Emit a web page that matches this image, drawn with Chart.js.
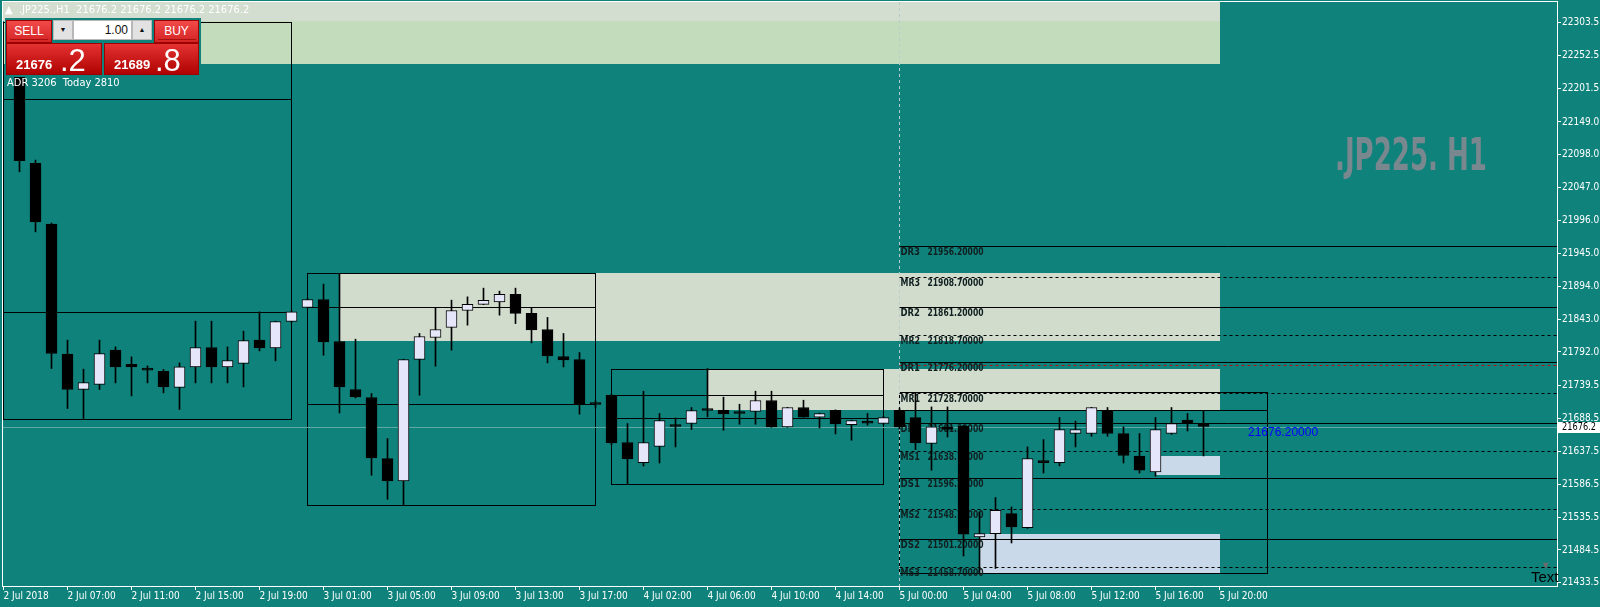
<!DOCTYPE html>
<html lang="en">
<head>
<meta charset="UTF-8">
<title>.JP225.,H1</title>
<script src="https://cdn.jsdelivr.net/npm/chart.js"></script>
<style>
    body { margin: 0; background: #0f827c; overflow: hidden; }
    #wrap { position: relative; width: 1600px; height: 607px; }
    #wrap canvas { position: absolute; left: 0; top: 0; }
    .ov { position: absolute; white-space: nowrap; font-family: "Liberation Sans Narrow", "DejaVu Sans Condensed", sans-serif; }
    .title { left: 5px; top: 3px; font-size: 11px; color: #fff; }
    .btn { position: absolute; box-sizing: border-box; border: 1px solid #9c0000; color: #fff; text-align: center;
        background: linear-gradient(#f24a4a, #d42424); font-family: "Liberation Sans", sans-serif; font-size: 12px; }
    .btn span { display: inline-block; margin-top: 3px; padding-bottom: 1px; border-bottom: 1px solid #a81010; width: 38px; }
    .price { position: absolute; box-sizing: border-box; border: 1px solid #9c0000; color: #fff;
        background: linear-gradient(#e43232, #b00202); font-family: "Liberation Sans", sans-serif; }
    .price b { position: absolute; left: 9px; top: 13px; font-size: 13px; }
    .price i { position: absolute; font-style: normal; top: -1px; font-size: 31px; }
    .lot { position: absolute; box-sizing: border-box; background: #e2e2e2; border: 1px solid #b8b8b8; font-size: 7px; text-align: center; line-height: 18px; color: #111; }
    #wm { left: 1335px; top: 129px; font-size: 44px; font-weight: bold; color: #79878f; transform-origin: 0 0; }
</style>
</head>
<body>
<div id="wrap">
    <canvas id="c" width="1600" height="607"></canvas>
    <div class="ov title">&#9650;&nbsp; .JP225.,H1&nbsp; 21676.2 21676.2 21676.2 21676.2</div>
    <div class="ov" style="left:5px;top:18px;width:196px;height:59px;background:#0f827c;"></div>
    <div class="btn" style="left:6px;top:20px;width:46px;height:23px;"><span>SELL</span></div>
    <div class="lot" style="left:53px;top:20px;width:20px;height:20px;">&#9660;</div>
    <div class="lot" style="left:73px;top:20px;width:59px;height:20px;background:#fff;font-size:12px;text-align:right;padding-right:3px;font-family:'Liberation Sans',sans-serif;">1.00</div>
    <div class="lot" style="left:132px;top:20px;width:20px;height:20px;">&#9650;</div>
    <div class="btn" style="left:154px;top:20px;width:45px;height:23px;"><span>BUY</span></div>
    <div class="price" style="left:6px;top:43px;width:96px;height:32px;"><b>21676</b><i style="left:53px;">.2</i></div>
    <div class="price" style="left:104px;top:43px;width:95px;height:32px;"><b>21689</b><i style="left:50px;">.8</i></div>
    <div class="ov" style="left:7px;top:76px;font-size:11px;color:#fff;">ADR 3206&nbsp; Today 2810</div>
    <div class="ov" id="wm">.JP225. H1</div>
    <div class="ov" style="left:1248px;top:425px;font-size:12px;color:#0000ff;font-family:'Liberation Sans',sans-serif;">21676.20000</div>
    <div class="ov" style="left:1531px;top:568px;font-size:15px;color:#000;font-family:'Liberation Sans',sans-serif;">Text</div>
    <div class="ov" style="left:1543px;top:561px;font-size:8px;color:#6c6c6c;">&#9660;</div>
</div>

<script>
    // bar index of the first candle, then OHLC per hour
    const firstBar = 1;
    const opens = [22262, 22084.6, 21990.4, 21788.5, 21733.6, 21741.4, 21794.7, 21772.9, 21766.7, 21762.0,
        21736.7, 21768.7, 21798.9, 21768.7, 21774.0, 21810.2, 21798.3, 21839.2, 21861.0, 21873.4,
        21808.2, 21733.6, 21721.2, 21626.4, 21591.7, 21780.2, 21814.4, 21830.0, 21856.3, 21865.7,
        21869.7, 21881.2, 21851.7, 21826.8, 21784.9, 21780.2, 21710.3, 21724.8, 21651.3, 21620.2,
        21645.1, 21676.2, 21680.8, 21701.0, 21701.5, 21696.4, 21699.5, 21716.6, 21675.6, 21705.7,
        21690.6, 21701.5, 21679.1, 21681.3, 21680.8, 21701.5, 21690.1, 21649.8, 21675.6, 21676.6,
        21504.9, 21510.0, 21541.0, 21519.3, 21620.2, 21620.2, 21665.3, 21665.3, 21700.4, 21665.3,
        21630.1, 21605.7, 21665.3, 21686.0, 21680.8];
    const highs = [22304.6, 22089.8, 21992.0, 21810.2, 21765.2, 21810.2, 21799.8, 21784.3, 21770.3, 21764.7,
        21775.0, 21839.7, 21839.7, 21799.8, 21824.2, 21854.2, 21839.7, 21856.0, 21875.0, 21897.2,
        21913.8, 21811.7, 21727.4, 21657.5, 21780.7, 21820.6, 21861.0, 21872.3, 21877.5, 21891.0,
        21886.3, 21891.0, 21860.4, 21845.5, 21820.6, 21791.1, 21716.0, 21726.0, 21680.8, 21731.0,
        21696.4, 21689.5, 21705.7, 21766.2, 21721.7, 21710.8, 21731.0, 21731.0, 21706.0, 21717.0,
        21697.0, 21702.0, 21686.0, 21696.4, 21692.0, 21705.0, 21729.0, 21706.6, 21706.6, 21678.0,
        21543.1, 21565.9, 21551.3, 21644.5, 21655.9, 21690.1, 21684.6, 21706.0, 21705.7, 21675.6,
        21665.3, 21690.1, 21705.7, 21696.4, 21700.4];
    const lows = [22071.6, 21978.4, 21766.2, 21704.1, 21688.6, 21733.6, 21743.9, 21723.7, 21743.9, 21728.4,
        21702.6, 21743.9, 21743.9, 21743.9, 21737.7, 21793.6, 21778.1, 21838.0, 21860.0, 21786.9,
        21697.3, 21720.6, 21600.5, 21563.2, 21553.9, 21724.8, 21769.8, 21794.7, 21833.5, 21865.4,
        21849.0, 21836.0, 21806.0, 21775.0, 21768.7, 21695.3, 21705.0, 21648.0, 21586.5, 21614.9,
        21619.6, 21644.5, 21671.5, 21691.2, 21670.4, 21679.7, 21679.7, 21675.0, 21675.0, 21690.6,
        21674.0, 21664.7, 21654.9, 21678.2, 21679.0, 21672.0, 21640.4, 21608.3, 21660.0, 21475.2,
        21449.4, 21455.8, 21495.4, 21518.0, 21604.1, 21615.1, 21644.5, 21661.1, 21661.1, 21619.6,
        21604.1, 21599.0, 21664.0, 21669.3, 21630.5];
    const closes = [22088.7, 21993.9, 21789.5, 21733.6, 21744.5, 21789.5, 21768.7, 21768.7, 21763.6, 21737.7,
        21768.7, 21798.9, 21768.7, 21778.7, 21809.7, 21798.3, 21839.2, 21854.2, 21873.4, 21807.6,
        21737.7, 21722.1, 21627.4, 21591.7, 21780.2, 21815.9, 21826.8, 21856.3, 21865.7, 21871.9,
        21881.2, 21851.7, 21826.2, 21785.8, 21779.6, 21710.8, 21710.8, 21650.7, 21625.8, 21651.3,
        21685.5, 21677.0, 21701.0, 21701.5, 21695.7, 21696.9, 21716.6, 21675.6, 21705.7, 21690.6,
        21696.4, 21680.2, 21685.5, 21681.8, 21690.1, 21675.6, 21650.7, 21675.6, 21671.5, 21508.9,
        21510.0, 21546.2, 21520.2, 21626.4, 21620.9, 21671.5, 21671.5, 21705.7, 21665.3, 21631.2,
        21608.3, 21671.5, 21680.8, 21681.8, 21676.2];

    const tickBars = [0, 4, 8, 12, 16, 20, 24, 28, 32, 36, 40, 44, 48, 52, 56, 60, 64, 68, 72, 76];
    const tickLabels = ['2 Jul 2018', '2 Jul 07:00', '2 Jul 11:00', '2 Jul 15:00', '2 Jul 19:00', '3 Jul 01:00',
        '3 Jul 05:00', '3 Jul 09:00', '3 Jul 13:00', '3 Jul 17:00', '4 Jul 02:00', '4 Jul 06:00', '4 Jul 10:00',
        '4 Jul 14:00', '5 Jul 00:00', '5 Jul 04:00', '5 Jul 08:00', '5 Jul 12:00', '5 Jul 16:00', '5 Jul 20:00'];
    const priceTicks = [22303.5, 22252.5, 22201.5, 22149.0, 22098.0, 22047.0, 21996.0, 21945.0, 21894.0,
        21843.0, 21792.0, 21739.5, 21688.5, 21637.5, 21586.5, 21535.5, 21484.5, 21433.5];

    // pivot levels of the day
    const levelNames = ['DR3', 'MR3', 'DR2', 'MR2', 'DR1', 'MR1', 'DP', 'MS1', 'DS1', 'MS2', 'DS2', 'MS3'];
    const levelValues = [21956.2, 21908.7, 21861.2, 21818.7, 21776.2, 21728.7, 21681.2, 21638.7, 21596.2, 21548.7, 21501.2, 21458.7];
    const levelStart = 56;
    const redLevel = 21771.4;
    const lastPrice = 21676.2;

    // daily range boxes
    const boxFrom = [0, 19, 38, 56];
    const boxTo = [18, 37, 55, 79];
    const boxHigh = [22304.6, 21913.8, 21766.2, 21729.0];
    const boxLow = [21688.6, 21553.9, 21586.5, 21449.4];
    const boxOpen = [22184.1, 21861.0, 21724.8, 21701.5];
    const boxClose = [21854.2, 21710.8, 21690.1, null];

    // shaded zones
    const zoneFrom = [-1, 0, 21, 44, 72, 61];
    const zoneTo = [76, 76, 76, 76, 76, 76];
    const zoneTop = [22345, 22305.0, 21913.8, 21766.2, 21630.0, 21510.0];
    const zoneBottom = [22305.0, 22238.4, 21808.2, 21701.5, 21600.5, 21449.4];
    const zoneColors = ['#d3ddd0', '#c2dcbc', '#d1dccd', '#d1dccd', '#c9d9ea', '#c9d9ea'];

    const narrow = '"Liberation Sans Narrow", "DejaVu Sans Condensed", sans-serif';

    const bodyData = opens.map((o, k) => ({ x: firstBar + k, y: [o, closes[k]] }));
    const wickData = lows.map((l, k) => ({ x: firstBar + k, y: [l, highs[k]] }));
    const bodyColors = opens.map((o, k) => {
        const c = closes[k];
        if (Math.abs(c - o) < 2) return '#000000';
        return c > o ? '#e6e6fa' : '#000000';
    });

    const overlay = {
        id: 'overlay',
        beforeDatasetsDraw(chart) {
            const { ctx, chartArea: a, scales: { x, y } } = chart;
            const px = v => x.getPixelForValue(v);
            const py = v => Math.round(y.getPixelForValue(v)) + 0.5;
            ctx.save();
            ctx.beginPath();
            ctx.rect(a.left, a.top, a.right - a.left, a.bottom - a.top);
            ctx.clip();

            zoneFrom.forEach((f, k) => {
                const x0 = Math.round(px(f)), x1 = Math.round(px(zoneTo[k]));
                const y0 = Math.round(y.getPixelForValue(zoneTop[k])), y1 = Math.round(y.getPixelForValue(zoneBottom[k]));
                ctx.fillStyle = zoneColors[k];
                ctx.fillRect(x0, y0, x1 - x0, y1 - y0);
            });

            ctx.strokeStyle = '#000';
            ctx.lineWidth = 1;
            boxFrom.forEach((f, k) => {
                const x0 = Math.floor(px(f)) + 0.5, x1 = Math.floor(px(boxTo[k])) + 0.5;
                ctx.strokeRect(x0, py(boxHigh[k]), x1 - x0, py(boxLow[k]) - py(boxHigh[k]));
                [boxOpen[k], boxClose[k]].forEach(v => {
                    if (v === null) return;
                    ctx.beginPath();
                    ctx.moveTo(x0, py(v));
                    ctx.lineTo(x1, py(v));
                    ctx.stroke();
                });
            });

            // day separator
            const sx = Math.floor(px(levelStart)) + 0.5;
            ctx.strokeStyle = '#b8cccc';
            ctx.setLineDash([3, 3]);
            ctx.beginPath();
            ctx.moveTo(sx, a.top);
            ctx.lineTo(sx, a.bottom);
            ctx.stroke();

            // bid line
            ctx.setLineDash([]);
            ctx.strokeStyle = '#5fa9a4';
            ctx.beginPath();
            ctx.moveTo(a.left, py(lastPrice));
            ctx.lineTo(a.right, py(lastPrice));
            ctx.stroke();

            ctx.strokeStyle = '#b01010';
            ctx.setLineDash([3, 3]);
            ctx.beginPath();
            ctx.moveTo(sx, py(redLevel));
            ctx.lineTo(a.right, py(redLevel));
            ctx.stroke();

            ctx.font = 'bold 11px ' + narrow;
            ctx.textBaseline = 'middle';
            levelNames.forEach((n, k) => {
                const ly = py(levelValues[k]);
                ctx.strokeStyle = '#000';
                ctx.setLineDash(n[0] === 'M' ? [3, 3] : []);
                ctx.beginPath();
                ctx.moveTo(sx, ly);
                ctx.lineTo(a.right, ly);
                ctx.stroke();
                ctx.fillStyle = '#102020';
                ctx.fillText(n, sx + 1, ly + 6, n.length * 6.5);
                ctx.fillText(levelValues[k].toFixed(5), sx + 28, ly + 6, 56);
            });
            ctx.restore();
        },
        afterDraw(chart) {
            const { ctx, chartArea: a, scales: { y } } = chart;
            ctx.save();
            ctx.strokeStyle = '#ffffff';
            ctx.lineWidth = 1;
            ctx.strokeRect(a.left - 0.5, a.top - 0.5, a.right - a.left + 1, a.bottom - a.top + 1);
            const ly = Math.round(y.getPixelForValue(lastPrice));
            ctx.fillStyle = '#ffffff';
            ctx.fillRect(a.right + 1, ly - 5, 43, 11);
            ctx.fillStyle = '#000';
            ctx.font = '11px ' + narrow;
            ctx.textBaseline = 'middle';
            ctx.fillText(lastPrice.toFixed(1), a.right + 5, ly + 0.5, 34);
            ctx.restore();
        }
    };

    new Chart(document.getElementById('c'), {
        type: 'bar',
        data: {
            datasets: [
                {
                    data: bodyData,
                    backgroundColor: bodyColors,
                    borderColor: '#000000',
                    borderWidth: 1,
                    borderSkipped: false,
                    barThickness: 11,
                    minBarLength: 2,
                    grouped: false,
                    order: 0
                },
                {
                    data: wickData,
                    backgroundColor: '#000000',
                    borderWidth: 0,
                    barThickness: 1,
                    grouped: false,
                    order: 1
                }
            ]
        },
        options: {
            responsive: false,
            animation: false,
            layout: { padding: { left: 3, top: 2, right: 0, bottom: 0 } },
            plugins: { legend: { display: false }, tooltip: { enabled: false } },
            scales: {
                x: {
                    type: 'linear',
                    offset: false,
                    min: -0.03125,
                    max: 97.09375,
                    afterBuildTicks: s => { s.ticks = tickBars.map(v => ({ value: v })); },
                    afterFit: s => { s.height = 21; s.paddingLeft = 0; s.paddingRight = 0; },
                    grid: { offset: false, drawOnChartArea: false, drawTicks: true, tickLength: 4, color: '#ffffff' },
                    border: { color: '#ffffff' },
                    ticks: {
                        autoSkip: false, maxRotation: 0, align: 'start', padding: 0, color: '#ffffff',
                        font: { family: narrow, size: 10 },
                        callback: v => tickLabels[tickBars.indexOf(v)]
                    }
                },
                y: {
                    type: 'linear',
                    position: 'right',
                    min: 21428.6,
                    max: 22335.2,
                    afterBuildTicks: s => { s.ticks = priceTicks.map(v => ({ value: v })); },
                    afterFit: s => { s.width = 43; s.paddingTop = 0; s.paddingBottom = 0; },
                    grid: { drawOnChartArea: false, drawTicks: true, tickLength: 4, color: '#ffffff' },
                    border: { color: '#ffffff' },
                    ticks: {
                        padding: 1, color: '#ffffff', font: { family: narrow, size: 10 },
                        callback: v => v.toFixed(1)
                    }
                }
            }
        },
        plugins: [overlay]
    });

    const wm = document.getElementById('wm');
    wm.style.transform = 'scaleX(' + (152 / wm.getBoundingClientRect().width) + ')';
</script>
</body>
</html>
